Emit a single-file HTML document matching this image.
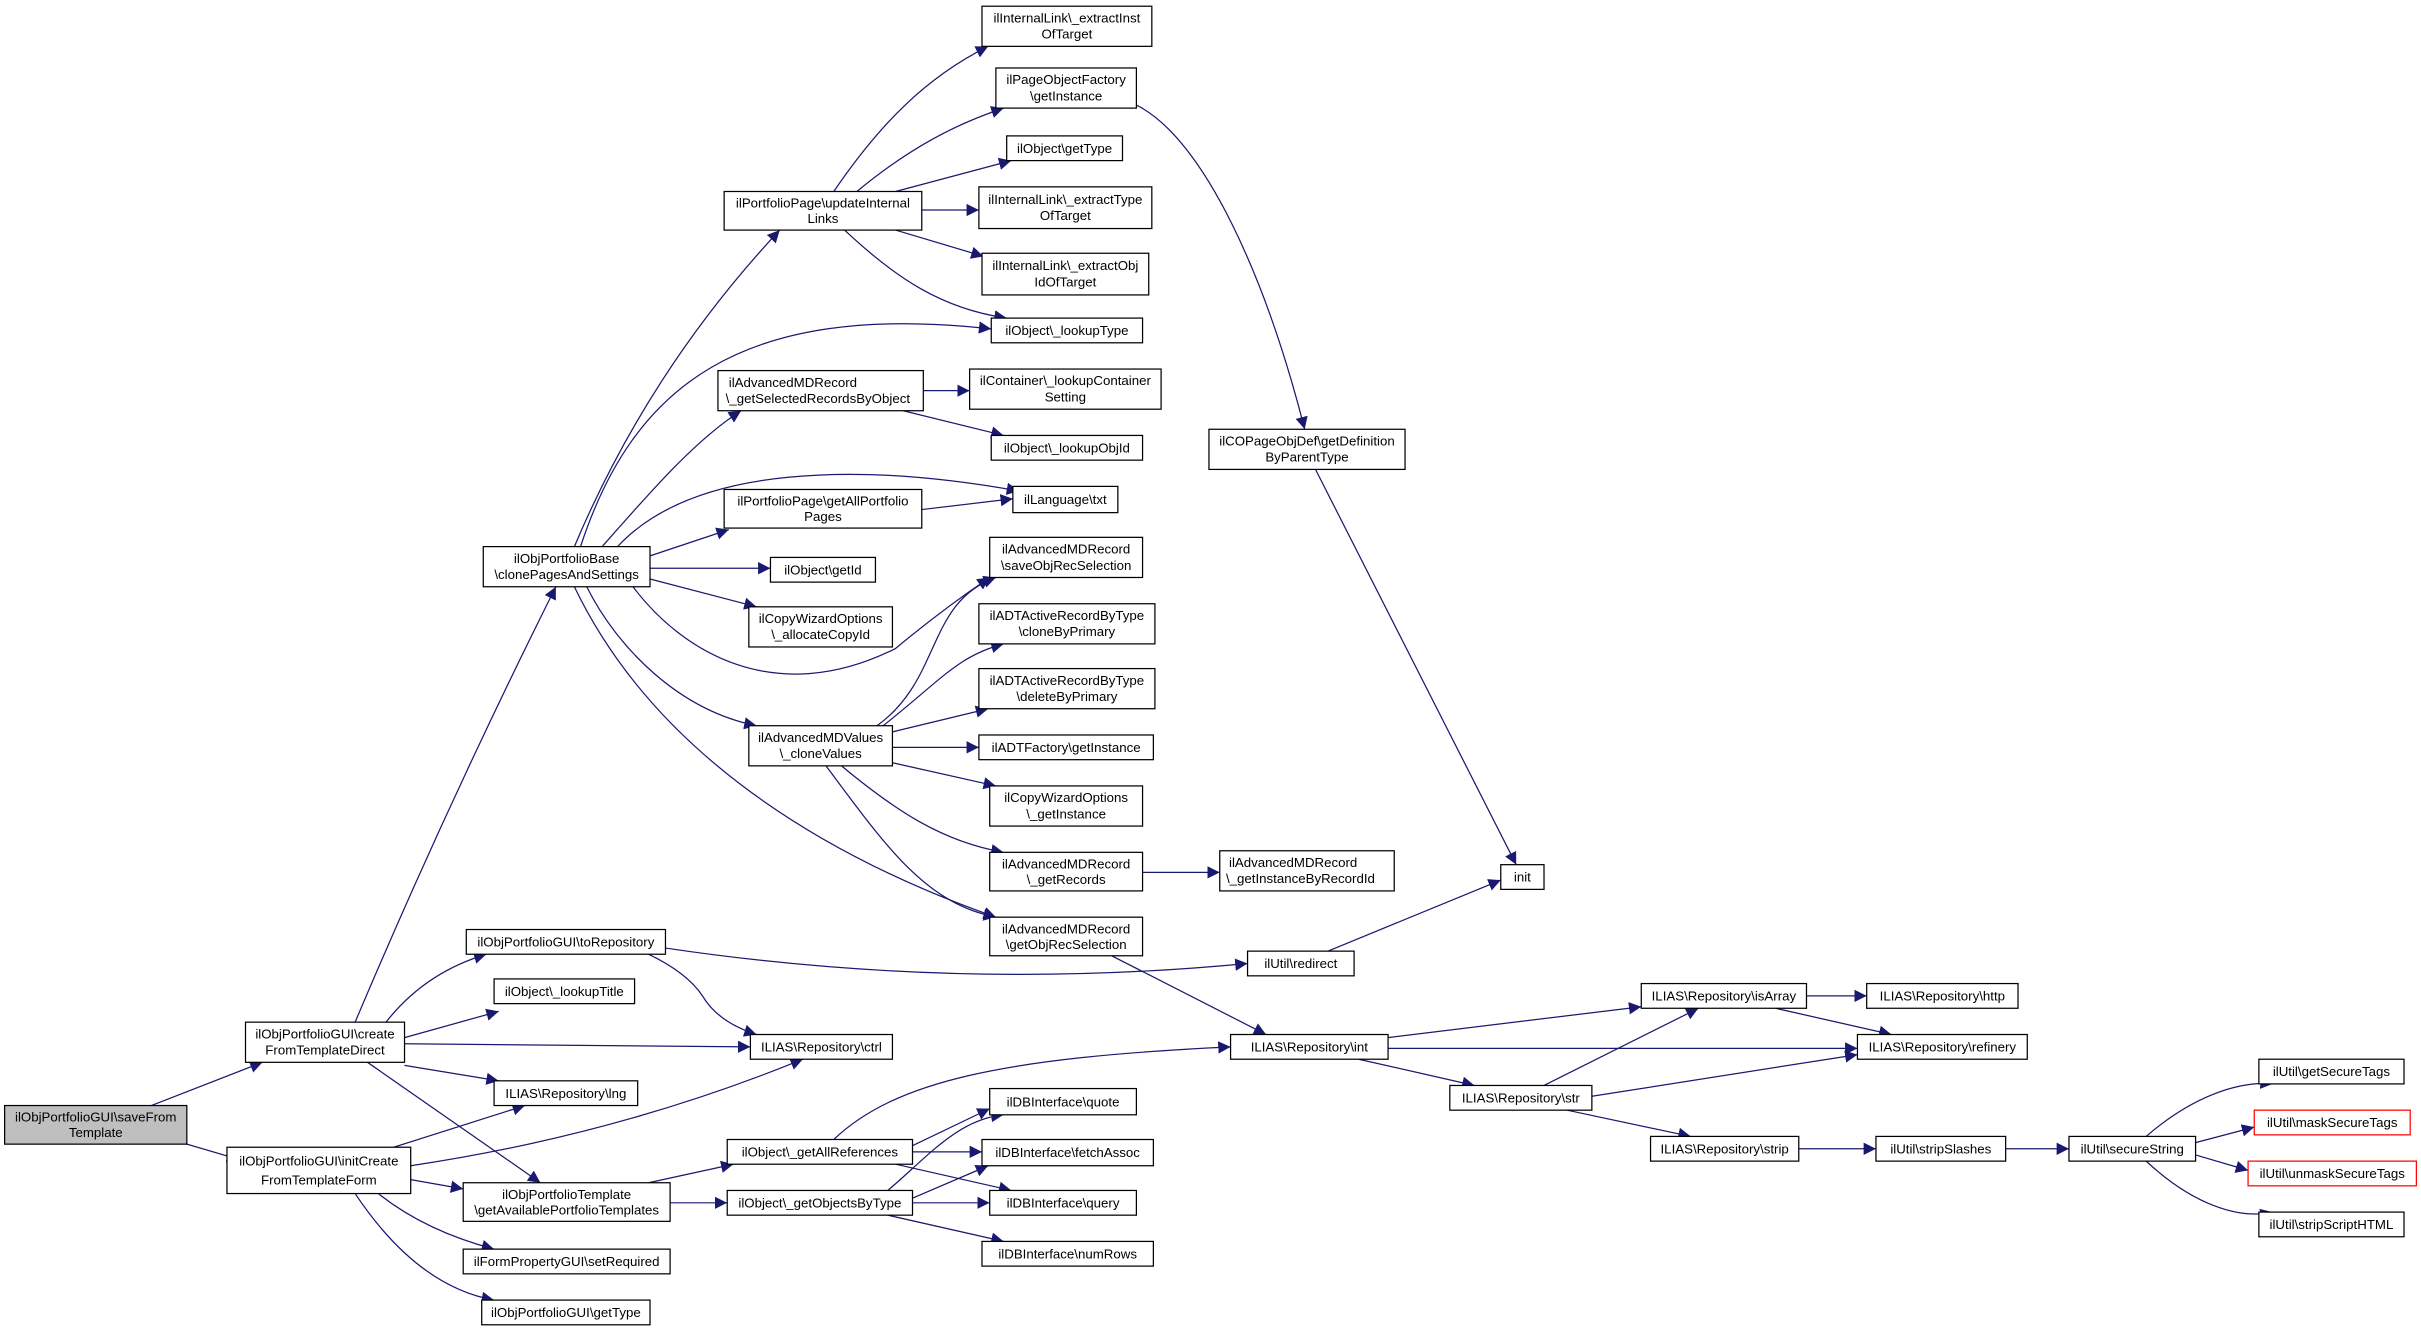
<!DOCTYPE html>
<html><head><meta charset="utf-8"><style>
html,body{margin:0;padding:0;background:#fff;}
svg{display:block;}
text{font-family:"Liberation Sans",sans-serif;font-size:8.6px;fill:#000;}
.n{fill:#fff;stroke:#000;stroke-width:0.8;}
.e{fill:none;stroke:#191970;stroke-width:0.8;marker-end:url(#a);}
</style></head><body>
<svg width="2421" height="1333" viewBox="0 0 1568 863.3" xmlns="http://www.w3.org/2000/svg">
<defs><marker id="a" viewBox="0 0 10 10" refX="10" refY="5" markerWidth="8" markerHeight="8" markerUnits="userSpaceOnUse" orient="auto"><path d="M0,0 L10,5 L0,10 z" fill="#191970"/></marker></defs>
<g>
<path class="e" d="M98,716 L170,688"/>
<path class="e" d="M121,741 L155,751"/>
<path class="e" d="M230,662 Q290,520 360,380"/>
<path class="e" d="M250,662 Q275,630 315,618"/>
<path class="e" d="M262,672 L323,655"/>
<path class="e" d="M262,676 L486,678"/>
<path class="e" d="M262,690 L323,700"/>
<path class="e" d="M238,688 L350,766"/>
<path class="e" d="M255,743 L340,716"/>
<path class="e" d="M266,755 Q400,735 520,686"/>
<path class="e" d="M266,764 L300,770"/>
<path class="e" d="M245,773 Q275,797 320,809"/>
<path class="e" d="M230,773 Q270,833 320,842"/>
<path class="e" d="M420,618 Q445,630 455,645 Q465,662 490,670"/>
<path class="e" d="M431,614 Q620,642 808,624"/>
<path class="e" d="M372,354 Q420,240 505,149"/>
<path class="e" d="M376,354 C410,250 480,195 642,213"/>
<path class="e" d="M390,354 C420,320 450,285 480,266"/>
<path class="e" d="M400,354 C450,300 560,300 660,318"/>
<path class="e" d="M421,360 L472,343"/>
<path class="e" d="M421,368 L499,368"/>
<path class="e" d="M421,375 L490,393"/>
<path class="e" d="M410,380 C440,420 500,460 580,420 Q610,395 641,374"/>
<path class="e" d="M380,380 C400,420 440,460 490,470"/>
<path class="e" d="M372,380 C420,480 520,550 645,594"/>
<path class="e" d="M540,124 C570,80 600,50 640,30"/>
<path class="e" d="M555,124 C590,95 620,80 650,70"/>
<path class="e" d="M580,124 L655,104"/>
<path class="e" d="M597,136 L634,136"/>
<path class="e" d="M580,149 L637,166"/>
<path class="e" d="M547,149 C580,180 610,200 652,206"/>
<path class="e" d="M598,253 L628,253"/>
<path class="e" d="M585,266 L650,282"/>
<path class="e" d="M597,330 L656,323"/>
<path class="e" d="M568,470 C610,440 600,390 645,374"/>
<path class="e" d="M572,470 C610,440 620,425 650,417"/>
<path class="e" d="M578,474 L640,459"/>
<path class="e" d="M578,484 L634,484"/>
<path class="e" d="M578,494 L645,509"/>
<path class="e" d="M545,496 C580,525 610,545 650,552"/>
<path class="e" d="M535,496 C575,550 600,585 645,594"/>
<path class="e" d="M736,68 C780,90 820,180 845,278"/>
<path class="e" d="M852,304 L982,560"/>
<path class="e" d="M740,565 L790,565"/>
<path class="e" d="M720,619 L820,670"/>
<path class="e" d="M860,616 L972,570"/>
<path class="e" d="M899,672 L1063,652"/>
<path class="e" d="M899,679 L1203,679"/>
<path class="e" d="M880,686 L955,703"/>
<path class="e" d="M1170,645 L1209,645"/>
<path class="e" d="M1150,653 L1225,670"/>
<path class="e" d="M1000,703 L1100,653"/>
<path class="e" d="M1031,710 L1203,683"/>
<path class="e" d="M1015,719 L1095,736"/>
<path class="e" d="M1165,744 L1215,744"/>
<path class="e" d="M1299,744 L1340,744"/>
<path class="e" d="M1390,736 C1420,710 1450,700 1472,702"/>
<path class="e" d="M1422,740 L1460,730"/>
<path class="e" d="M1422,748 L1456,758"/>
<path class="e" d="M1390,752 C1420,780 1450,790 1472,785"/>
<path class="e" d="M540,738 C580,700 650,685 797,678"/>
<path class="e" d="M591,742 L641,718"/>
<path class="e" d="M591,746 L636,746"/>
<path class="e" d="M580,754 L655,771"/>
<path class="e" d="M575,771 C600,750 620,725 650,722"/>
<path class="e" d="M591,776 L640,755"/>
<path class="e" d="M591,779 L641,779"/>
<path class="e" d="M575,787 L650,804"/>
<path class="e" d="M420,766 L475,754"/>
<path class="e" d="M434,779 L471,779"/>
</g>
<g text-anchor="middle">
<rect x="3" y="716" width="118" height="25" fill="#bfbfbf" stroke="#000" stroke-width="0.8"/><text x="62" y="726.5">ilObjPortfolioGUI\saveFrom</text><text x="62" y="736.5">Template</text>
<rect class="n" x="159" y="662" width="103" height="26"/><text x="210.5" y="672.5">ilObjPortfolioGUI\create</text><text x="210.5" y="683">FromTemplateDirect</text>
<rect class="n" x="147" y="743" width="119" height="30"/><text x="206.5" y="755">ilObjPortfolioGUI\initCreate</text><text x="206.5" y="767">FromTemplateForm</text>
<rect class="n" x="313" y="354" width="108" height="26"/><text x="367" y="364.5">ilObjPortfolioBase</text><text x="367" y="375">\clonePagesAndSettings</text>
<rect class="n" x="302" y="602" width="129" height="16"/><text x="366.5" y="613">ilObjPortfolioGUI\toRepository</text>
<rect class="n" x="320" y="634" width="91" height="16"/><text x="365.5" y="645">ilObject\_lookupTitle</text>
<rect class="n" x="486" y="670" width="92" height="16"/><text x="532" y="681">ILIAS\Repository\ctrl</text>
<rect class="n" x="320" y="700" width="93" height="16"/><text x="366.5" y="711">ILIAS\Repository\lng</text>
<rect class="n" x="300" y="766" width="134" height="25"/><text x="367" y="776.5">ilObjPortfolioTemplate</text><text x="367" y="786.5">\getAvailablePortfolioTemplates</text>
<rect class="n" x="300" y="809" width="134" height="16"/><text x="367" y="820">ilFormPropertyGUI\setRequired</text>
<rect class="n" x="312" y="842" width="109" height="16"/><text x="366.5" y="853">ilObjPortfolioGUI\getType</text>
<rect class="n" x="469" y="124" width="128" height="25"/><text x="533" y="134.5">ilPortfolioPage\updateInternal</text><text x="533" y="144.5">Links</text>
<rect class="n" x="465" y="240" width="133" height="26"/><text x="472" y="250.5" text-anchor="start">ilAdvancedMDRecord</text><text x="470" y="261" text-anchor="start">\_getSelectedRecordsByObject</text>
<rect class="n" x="469" y="317" width="128" height="25"/><text x="533" y="327.5">ilPortfolioPage\getAllPortfolio</text><text x="533" y="337.5">Pages</text>
<rect class="n" x="499" y="361" width="68" height="16"/><text x="533" y="372">ilObject\getId</text>
<rect class="n" x="485" y="393" width="93" height="26"/><text x="531.5" y="403.5">ilCopyWizardOptions</text><text x="531.5" y="414">\_allocateCopyId</text>
<rect class="n" x="485" y="470" width="93" height="26"/><text x="531.5" y="480.5">ilAdvancedMDValues</text><text x="531.5" y="491">\_cloneValues</text>
<rect class="n" x="636" y="4" width="110" height="26"/><text x="691" y="14.5">ilInternalLink\_extractInst</text><text x="691" y="25">OfTarget</text>
<rect class="n" x="645" y="44" width="91" height="26"/><text x="690.5" y="54.5">ilPageObjectFactory</text><text x="690.5" y="65">\getInstance</text>
<rect class="n" x="652" y="88" width="75" height="16"/><text x="689.5" y="99">ilObject\getType</text>
<rect class="n" x="634" y="121" width="112" height="27"/><text x="690" y="132">ilInternalLink\_extractType</text><text x="690" y="142.5">OfTarget</text>
<rect class="n" x="636" y="164" width="108" height="27"/><text x="690" y="175">ilInternalLink\_extractObj</text><text x="690" y="185.5">IdOfTarget</text>
<rect class="n" x="642" y="206" width="98" height="16"/><text x="691" y="217">ilObject\_lookupType</text>
<rect class="n" x="628" y="239" width="124" height="26"/><text x="690" y="249.5">ilContainer\_lookupContainer</text><text x="690" y="260">Setting</text>
<rect class="n" x="642" y="282" width="98" height="16"/><text x="691" y="293">ilObject\_lookupObjId</text>
<rect class="n" x="656" y="315" width="68" height="17"/><text x="690" y="326.5">ilLanguage\txt</text>
<rect class="n" x="641" y="348" width="99" height="26"/><text x="690.5" y="358.5">ilAdvancedMDRecord</text><text x="690.5" y="369">\saveObjRecSelection</text>
<rect class="n" x="634" y="391" width="114" height="26"/><text x="691" y="401.5">ilADTActiveRecordByType</text><text x="691" y="412">\cloneByPrimary</text>
<rect class="n" x="634" y="433" width="114" height="26"/><text x="691" y="443.5">ilADTActiveRecordByType</text><text x="691" y="454">\deleteByPrimary</text>
<rect class="n" x="634" y="476" width="113" height="16"/><text x="690.5" y="487">ilADTFactory\getInstance</text>
<rect class="n" x="641" y="509" width="99" height="26"/><text x="690.5" y="519.5">ilCopyWizardOptions</text><text x="690.5" y="530">\_getInstance</text>
<rect class="n" x="641" y="552" width="99" height="25"/><text x="690.5" y="562.5">ilAdvancedMDRecord</text><text x="690.5" y="572.5">\_getRecords</text>
<rect class="n" x="641" y="594" width="99" height="25"/><text x="690.5" y="604.5">ilAdvancedMDRecord</text><text x="690.5" y="614.5">\getObjRecSelection</text>
<rect class="n" x="471" y="738" width="120" height="16"/><text x="531" y="749">ilObject\_getAllReferences</text>
<rect class="n" x="471" y="771" width="120" height="16"/><text x="531" y="782">ilObject\_getObjectsByType</text>
<rect class="n" x="641" y="705" width="95" height="17"/><text x="688.5" y="716.5">ilDBInterface\quote</text>
<rect class="n" x="636" y="738" width="111" height="17"/><text x="691.5" y="749.5">ilDBInterface\fetchAssoc</text>
<rect class="n" x="641" y="771" width="95" height="16"/><text x="688.5" y="782">ilDBInterface\query</text>
<rect class="n" x="636" y="804" width="111" height="16"/><text x="691.5" y="815">ilDBInterface\numRows</text>
<rect class="n" x="783" y="278" width="127" height="26"/><text x="846.5" y="288.5">ilCOPageObjDef\getDefinition</text><text x="846.5" y="299">ByParentType</text>
<rect class="n" x="790" y="551" width="113" height="26"/><text x="796" y="561.5" text-anchor="start">ilAdvancedMDRecord</text><text x="794" y="572" text-anchor="start">\_getInstanceByRecordId</text>
<rect class="n" x="972" y="560" width="28" height="16"/><text x="986" y="571">init</text>
<rect class="n" x="808" y="616" width="69" height="16"/><text x="842.5" y="627">ilUtil\redirect</text>
<rect class="n" x="797" y="670" width="102" height="16"/><text x="848" y="681">ILIAS\Repository\int</text>
<rect class="n" x="1063" y="637" width="107" height="16"/><text x="1116.5" y="648">ILIAS\Repository\isArray</text>
<rect class="n" x="1209" y="637" width="98" height="16"/><text x="1258" y="648">ILIAS\Repository\http</text>
<rect class="n" x="1203" y="670" width="110" height="16"/><text x="1258" y="681">ILIAS\Repository\refinery</text>
<rect class="n" x="939" y="703" width="92" height="16"/><text x="985" y="714">ILIAS\Repository\str</text>
<rect class="n" x="1069" y="736" width="96" height="16"/><text x="1117" y="747">ILIAS\Repository\strip</text>
<rect class="n" x="1215" y="736" width="84" height="16"/><text x="1257" y="747">ilUtil\stripSlashes</text>
<rect class="n" x="1340" y="736" width="82" height="16"/><text x="1381" y="747">ilUtil\secureString</text>
<rect class="n" x="1463" y="686" width="94" height="16"/><text x="1510" y="697">ilUtil\getSecureTags</text>
<rect x="1460" y="719" width="101" height="16" fill="#fff" stroke="#ff0000" stroke-width="0.8"/><text x="1510.5" y="730">ilUtil\maskSecureTags</text>
<rect x="1456" y="752" width="109" height="16" fill="#fff" stroke="#ff0000" stroke-width="0.8"/><text x="1510.5" y="763">ilUtil\unmaskSecureTags</text>
<rect class="n" x="1463" y="785" width="94" height="16"/><text x="1510" y="796">ilUtil\stripScriptHTML</text>
</g>
</svg>
</body></html>
